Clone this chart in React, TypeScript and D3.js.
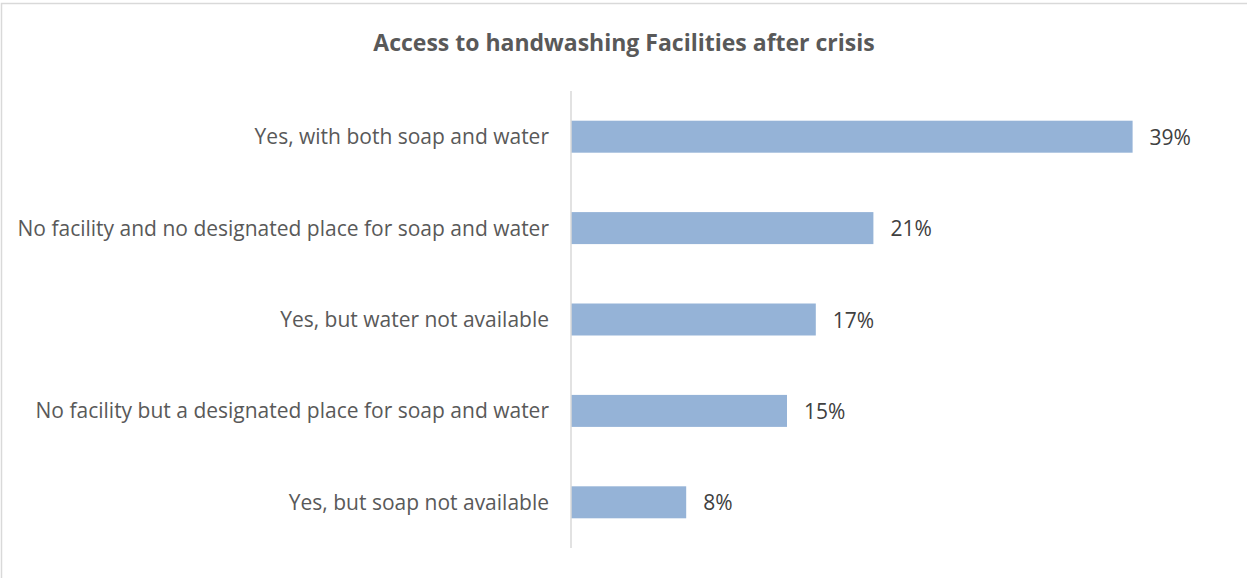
import React from "react";
import * as d3 from "d3";

const categories: string[] = [
  "Yes, with both soap and water",
  "No facility and no designated place for soap and water",
  "Yes, but water not available",
  "No facility but a designated place for soap and water",
  "Yes, but soap not available",
];
const values: number[] = [39, 21, 17, 15, 8];
const title = "Access to handwashing Facilities after crisis";

const W = 1247;
const H = 578;
const FONT = "'Open Sans', 'Liberation Sans', sans-serif";

export default function App() {
  const x = d3.scaleLinear().domain([0, 40]).range([571, 1147]);
  const y = d3.scaleBand<string>().domain(categories).range([91, 548]).paddingInner(0.65).paddingOuter(0.325);

  return (
    <svg width={W} height={H} style={{ position: "absolute", left: 0, top: 0 }}>
      <rect x={0} y={0} width={W} height={H} fill="#fff" />
      <rect x={1.5} y={3.5} width={W + 10} height={H + 10} fill="none" stroke="#d9d9d9" strokeWidth={1.5} />
      <text x={624} y={51} textAnchor="middle" fontFamily={FONT} fontWeight="bold" fontSize={23} fill="#595959">
        {title}
      </text>
      {categories.map((c, i) => {
        const yy = y(c)!;
        const bw = y.bandwidth();
        return (
          <g key={c}>
            <rect x={x(0)} y={yy} width={x(values[i]) - x(0)} height={bw} fill="#95B3D7" />
            <text x={549} y={yy + bw / 2 + 7.5} textAnchor="end" fontFamily={FONT} fontSize={21} fill="#595959">
              {c}
            </text>
            <text x={x(values[i]) + 17} y={yy + bw / 2 + 8} fontFamily={FONT} fontSize={21} fill="#404040">
              {values[i] + "%"}
            </text>
          </g>
        );
      })}
      <line x1={x(0)} x2={x(0)} y1={91} y2={548} stroke="#d9d9d9" strokeWidth={1.5} />
    </svg>
  );
}
